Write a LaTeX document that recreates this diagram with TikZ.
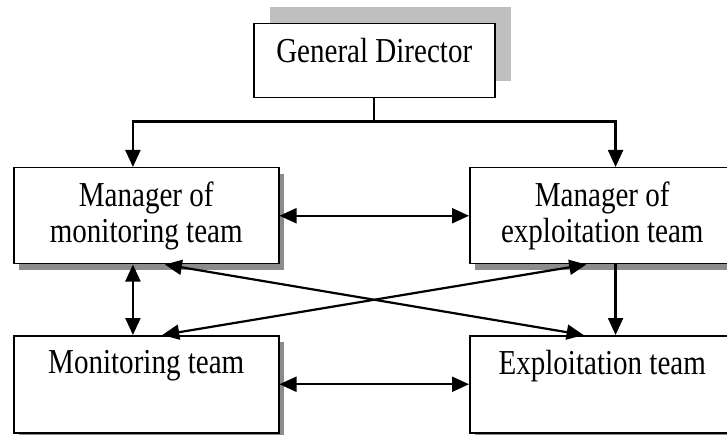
\documentclass[tikz,border=0pt]{standalone}
\usepackage{fontspec}
\setmainfont{Liberation Serif}[FakeStretch=0.83]
\usetikzlibrary{arrows.meta,calc,shadows}

\begin{document}
\begin{tikzpicture}[
  x = 1pt, y = -1pt,
  every node/.style = {font = \fontsize{35}{36}\selectfont},
  box/.style = {draw, line width = 1.5pt, fill = white, inner sep = 0pt,
    minimum width = 265pt, minimum height = 96pt, anchor = north west},
  shade/.style = {drop shadow = {shadow xshift = 5pt, shadow yshift = -6pt,
    fill = black!45, opacity = 1}},
  caption/.style = {anchor = north, align = center, inner sep = 0pt, yshift = -15pt},
  link/.style = {line width = 2.2pt, -{Triangle[length = 17pt, width = 15pt]}},
  twoway/.style = {line width = 2.2pt,
    {Triangle[length = 17pt, width = 15pt]}-{Triangle[length = 17pt, width = 15pt]}}
  ]
  \useasboundingbox (0,0) rectangle (727,435);

  % boxes
  \node[box, minimum width = 241pt, minimum height = 74pt,
        drop shadow = {shadow xshift = 16pt, shadow yshift = 17pt,
        fill = black!25, opacity = 1}] (gd) at (253,23) {};
  \node[box, shade] (mm) at (13,167) {};
  \node[box, shade] (me) at (469,167) {};
  \node[box, shade, minimum height = 97pt] (mt) at (13,335) {};
  \node[box, shade, minimum height = 97pt] (et) at (469,335) {};

  \node[caption] (gdtext) at (gd.north) {General Director};
  \node[caption] (mmtext) at (mm.north) {Manager of\\monitoring team};
  \node[caption] (metext) at (me.north) {Manager of\\exploitation team};
  \node[caption] (mttext) at (mt.north) {Monitoring team};
  \node[caption] (ettext) at (et.north) {Exploitation team};

  % connectors
  \coordinate (bus) at ($(gd.south) + (0,23)$);
  \draw[line width = 2.2pt] (gd.south) -- (bus);
  \draw[link] (bus) -| ($(mm.north west)!.45!(mm.north east)$);
  \draw[link] (bus) -| ($(me.north west)!.55!(me.north east)$);

  \draw[twoway] (mm.east) -- (me.west);
  \draw[twoway] (mt.east) -- (et.west);
  \draw[twoway] ($(mm.south west)!.45!(mm.south east)$) -- ($(mt.north west)!.45!(mt.north east)$);
  \draw[link] ($(me.south west)!.55!(me.south east)$) -- ($(et.north west)!.55!(et.north east)$);
  \draw[twoway] ($(mm.south west)!.57!(mm.south east)$) -- ($(et.north west)!.43!(et.north east)$);
  \draw[twoway] ($(mt.north west)!.56!(mt.north east)$) -- ($(me.south west)!.44!(me.south east)$);
\end{tikzpicture}
\end{document}
